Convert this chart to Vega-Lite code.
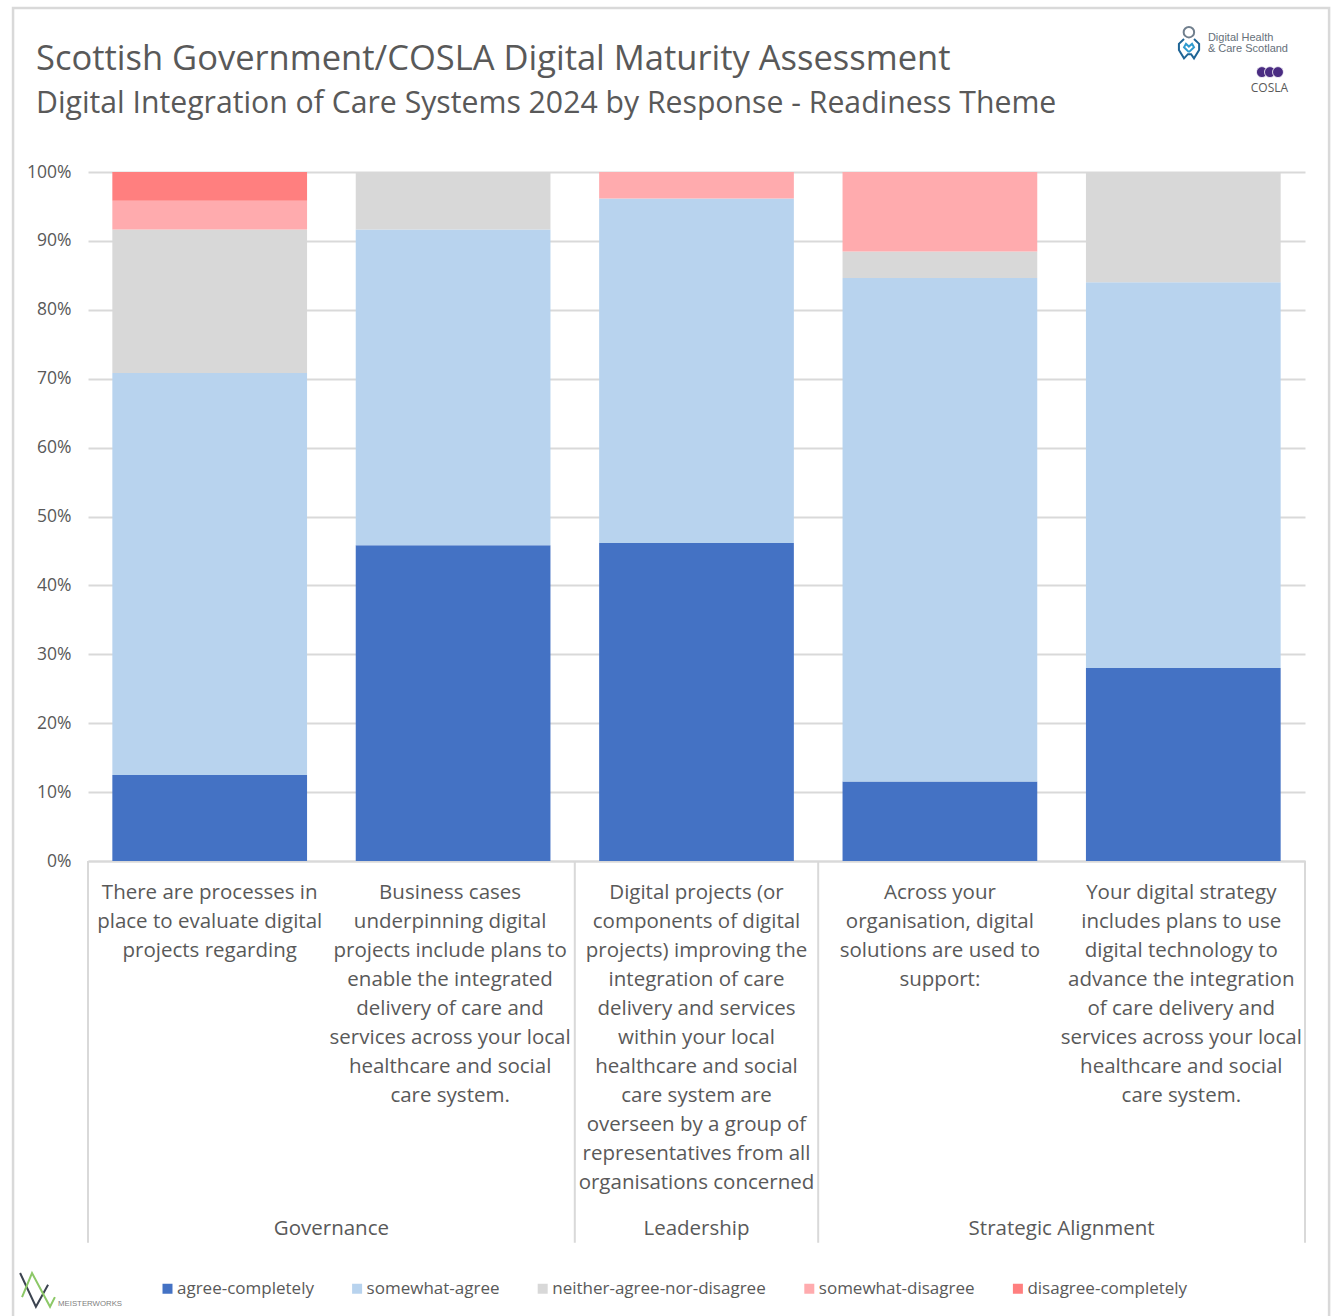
{
  "$schema": "https://vega.github.io/schema/vega-lite/v6.json",
  "width": 1217,
  "height": 689,
  "autosize": {"type": "none"},
  "padding": {"left": 88, "top": 172, "right": 34, "bottom": 455},
  "background": "white",
  "config": {"view": {"stroke": null}, "font": "Open Sans"},
  "title": {
    "text": "Scottish Government/COSLA Digital Maturity Assessment",
    "subtitle": "Digital Integration of Care Systems 2024 by Response - Readiness Theme",
    "anchor": "start",
    "frame": "group",
    "dx": -52,
    "offset": -113,
    "font": "Open Sans",
    "fontSize": 34.5,
    "fontWeight": "normal",
    "color": "#595959",
    "subtitleFont": "Open Sans",
    "subtitleFontSize": 30.2,
    "subtitleColor": "#595959",
    "subtitlePadding": 11
  },
  "datasets": {
    "responses": [
      {"question": "There are processes in|place to evaluate digital|projects regarding", "response": "agree-completely", "rank": 1, "pct": 12.5},
      {"question": "There are processes in|place to evaluate digital|projects regarding", "response": "somewhat-agree", "rank": 2, "pct": 58.33},
      {"question": "There are processes in|place to evaluate digital|projects regarding", "response": "neither-agree-nor-disagree", "rank": 3, "pct": 20.83},
      {"question": "There are processes in|place to evaluate digital|projects regarding", "response": "somewhat-disagree", "rank": 4, "pct": 4.17},
      {"question": "There are processes in|place to evaluate digital|projects regarding", "response": "disagree-completely", "rank": 5, "pct": 4.17},
      {"question": "Business cases|underpinning digital|projects include plans to|enable the integrated|delivery of care and|services across your local|healthcare and social|care system.", "response": "agree-completely", "rank": 1, "pct": 45.83},
      {"question": "Business cases|underpinning digital|projects include plans to|enable the integrated|delivery of care and|services across your local|healthcare and social|care system.", "response": "somewhat-agree", "rank": 2, "pct": 45.83},
      {"question": "Business cases|underpinning digital|projects include plans to|enable the integrated|delivery of care and|services across your local|healthcare and social|care system.", "response": "neither-agree-nor-disagree", "rank": 3, "pct": 8.34},
      {"question": "Digital projects (or|components of digital|projects) improving the|integration of care|delivery and services|within your local|healthcare and social|care system are|overseen by a group of|representatives from all|organisations concerned", "response": "agree-completely", "rank": 1, "pct": 46.15},
      {"question": "Digital projects (or|components of digital|projects) improving the|integration of care|delivery and services|within your local|healthcare and social|care system are|overseen by a group of|representatives from all|organisations concerned", "response": "somewhat-agree", "rank": 2, "pct": 50},
      {"question": "Digital projects (or|components of digital|projects) improving the|integration of care|delivery and services|within your local|healthcare and social|care system are|overseen by a group of|representatives from all|organisations concerned", "response": "somewhat-disagree", "rank": 4, "pct": 3.85},
      {"question": "Across your|organisation, digital|solutions are used to|support:", "response": "agree-completely", "rank": 1, "pct": 11.54},
      {"question": "Across your|organisation, digital|solutions are used to|support:", "response": "somewhat-agree", "rank": 2, "pct": 73.08},
      {"question": "Across your|organisation, digital|solutions are used to|support:", "response": "neither-agree-nor-disagree", "rank": 3, "pct": 3.85},
      {"question": "Across your|organisation, digital|solutions are used to|support:", "response": "somewhat-disagree", "rank": 4, "pct": 11.53},
      {"question": "Your digital strategy|includes plans to use|digital technology to|advance the integration|of care delivery and|services across your local|healthcare and social|care system.", "response": "agree-completely", "rank": 1, "pct": 28},
      {"question": "Your digital strategy|includes plans to use|digital technology to|advance the integration|of care delivery and|services across your local|healthcare and social|care system.", "response": "somewhat-agree", "rank": 2, "pct": 56},
      {"question": "Your digital strategy|includes plans to use|digital technology to|advance the integration|of care delivery and|services across your local|healthcare and social|care system.", "response": "neither-agree-nor-disagree", "rank": 3, "pct": 16}
    ],
    "themes": [
      {"theme": "Governance", "centre": 1},
      {"theme": "Leadership", "centre": 2.5},
      {"theme": "Strategic Alignment", "centre": 4}
    ],
    "themeEdges": [{"edge": 0}, {"edge": 2}, {"edge": 3}, {"edge": 5}],
    "brandLines": [
      {"part": "ring", "seq": 1, "px": 4.503, "py": 119.3},
      {"part": "ring", "seq": 2, "px": 4.482, "py": 118.6},
      {"part": "ring", "seq": 3, "px": 4.482, "py": 117.7},
      {"part": "ring", "seq": 4, "px": 4.503, "py": 116.5},
      {"part": "ring", "seq": 5, "px": 4.519, "py": 117.1},
      {"part": "ring", "seq": 6, "px": 4.532, "py": 117.1},
      {"part": "ring", "seq": 7, "px": 4.544, "py": 116.5},
      {"part": "ring", "seq": 8, "px": 4.565, "py": 117.7},
      {"part": "ring", "seq": 9, "px": 4.565, "py": 118.6},
      {"part": "ring", "seq": 10, "px": 4.544, "py": 119.3},
      {"part": "heart", "seq": 1, "px": 4.523, "py": 117.4},
      {"part": "heart", "seq": 2, "px": 4.503, "py": 118.1},
      {"part": "heart", "seq": 3, "px": 4.511, "py": 118.6},
      {"part": "heart", "seq": 4, "px": 4.523, "py": 118.2},
      {"part": "heart", "seq": 5, "px": 4.536, "py": 118.6},
      {"part": "heart", "seq": 6, "px": 4.544, "py": 118.1},
      {"part": "heart", "seq": 7, "px": 4.523, "py": 117.4},
      {"part": "zigDark", "seq": 1, "px": -0.279, "py": -59.8},
      {"part": "zigDark", "seq": 2, "px": -0.214, "py": -64.7},
      {"part": "zigDark", "seq": 3, "px": -0.164, "py": -61.5},
      {"part": "zigGreen", "seq": 1, "px": -0.271, "py": -63.3},
      {"part": "zigGreen", "seq": 2, "px": -0.23, "py": -59.8},
      {"part": "zigGreen", "seq": 3, "px": -0.156, "py": -64.7},
      {"part": "zigGreen", "seq": 4, "px": -0.136, "py": -63.3}
    ]
  },
  "layer": [
    {
      "description": "Frame around the whole card, open at the foot",
      "data": {"values": [{"frame": "card"}]},
      "mark": {"type": "rect", "fill": "transparent", "stroke": "#d9d9d9", "strokeWidth": 2.5},
      "encoding": {
        "x": {"datum": -0.308, "type": "quantitative", "scale": {"domain": [0, 5], "nice": false, "zero": false}, "axis": null},
        "x2": {"datum": 5.099},
        "y": {"datum": 123.8, "type": "quantitative", "scale": {"domain": [0, 100], "nice": false}},
        "y2": {"datum": -66.6}
      }
    },
    {
      "description": "Stacked response shares",
      "data": {"name": "responses"},
      "mark": {"type": "bar"},
      "encoding": {
        "x": {
          "field": "question",
          "type": "nominal",
          "sort": null,
          "scale": {"paddingInner": 0.2, "paddingOuter": 0.1},
          "axis": {
            "title": null,
            "labelExpr": "split(datum.label, '|')",
            "labelAngle": 0,
            "labelAlign": "center",
            "labelBaseline": "top",
            "labelFont": "Open Sans",
            "labelFontSize": 20.5,
            "labelColor": "#595959",
            "labelLineHeight": 29,
            "labelLimit": 0,
            "labelPadding": 21,
            "labelOverlap": false,
            "labelBound": false,
            "labelFlush": false,
            "labelOffset": {"expr": "indexof(datum.value, 'Business') == 0 ? -3 : indexof(datum.value, 'Your') == 0 ? -2 : 0"},
            "ticks": false,
            "domainColor": "#d9d9d9",
            "domainWidth": 2,
            "grid": false
          }
        },
        "y": {
          "field": "pct",
          "type": "quantitative",
          "stack": "zero",
          "scale": {"domain": [0, 100], "nice": false},
          "axis": {
            "title": null,
            "values": [0, 10, 20, 30, 40, 50, 60, 70, 80, 90, 100],
            "labelExpr": "datum.value + '%'",
            "labelFont": "Open Sans",
            "labelFontSize": 17.5,
            "labelColor": "#595959",
            "labelPadding": 17,
            "ticks": false,
            "domain": false,
            "grid": true,
            "gridColor": "#d9d9d9",
            "gridWidth": 2
          }
        },
        "color": {
          "field": "response",
          "type": "nominal",
          "sort": ["agree-completely", "somewhat-agree", "neither-agree-nor-disagree", "somewhat-disagree", "disagree-completely"],
          "scale": {
            "domain": ["agree-completely", "somewhat-agree", "neither-agree-nor-disagree", "somewhat-disagree", "disagree-completely"],
            "range": ["#4472c4", "#b8d3ee", "#d8d8d8", "#ffabae", "#ff7f7f"]
          },
          "legend": {
            "title": null,
            "orient": "none",
            "legendX": 71,
            "legendY": 1108,
            "direction": "horizontal",
            "columns": 5,
            "symbolType": "square",
            "symbolSize": 100,
            "symbolStrokeWidth": 0,
            "labelFont": "Open Sans",
            "labelFontSize": 17,
            "labelColor": "#595959",
            "labelOffset": 1,
            "labelLimit": 0,
            "columnPadding": 34.6
          }
        },
        "order": {"field": "rank", "type": "ordinal"}
      }
    },
    {
      "description": "Dividers that bracket the theme groups beneath the axis",
      "data": {"name": "themeEdges"},
      "mark": {"type": "rule", "color": "#d9d9d9", "strokeWidth": 2},
      "encoding": {
        "x": {"field": "edge", "type": "quantitative", "scale": {"domain": [0, 5], "nice": false, "zero": false}, "axis": null},
        "y": {"datum": 0, "type": "quantitative", "scale": {"domain": [0, 100], "nice": false}},
        "y2": {"datum": -55.4}
      }
    },
    {
      "description": "Theme group names",
      "data": {"name": "themes"},
      "mark": {"type": "text", "font": "Open Sans", "fontSize": 20.5, "color": "#595959", "align": "center", "baseline": "middle"},
      "encoding": {
        "x": {"field": "centre", "type": "quantitative", "scale": {"domain": [0, 5], "nice": false, "zero": false}, "axis": null},
        "y": {"datum": -53.45, "type": "quantitative", "scale": {"domain": [0, 100], "nice": false}},
        "text": {"field": "theme"}
      }
    },
    {
      "description": "Brand marks drawn as thin strokes",
      "data": {"name": "brandLines"},
      "mark": {"type": "line", "strokeWidth": 2, "interpolate": "linear"},
      "encoding": {
        "x": {"field": "px", "type": "quantitative", "scale": {"domain": [0, 5], "nice": false, "zero": false}, "axis": null},
        "y": {"field": "py", "type": "quantitative", "scale": {"domain": [0, 100], "nice": false}},
        "detail": {"field": "part"},
        "order": {"field": "seq", "type": "quantitative"},
        "stroke": {
          "field": "part",
          "type": "nominal",
          "scale": {"domain": ["ring", "heart", "zigDark", "zigGreen"], "range": ["#1f6596", "#2f9bd0", "#3c4450", "#8cc867"]},
          "legend": null
        }
      }
    },
    {
      "description": "Digital Health and Care Scotland head",
      "data": {"values": [{"px": 4.523, "py": 120.3}]},
      "mark": {"type": "point", "shape": "circle", "filled": false, "size": 110, "stroke": "#34495e", "strokeWidth": 2},
      "encoding": {
        "x": {"field": "px", "type": "quantitative", "scale": {"domain": [0, 5], "nice": false, "zero": false}, "axis": null},
        "y": {"field": "py", "type": "quantitative", "scale": {"domain": [0, 100], "nice": false}}
      }
    },
    {
      "description": "COSLA's three discs",
      "data": {"values": [{"px": 4.823, "py": 114.5}, {"px": 4.856, "py": 114.5}, {"px": 4.889, "py": 114.5}]},
      "mark": {"type": "point", "shape": "circle", "filled": true, "size": 120, "opacity": 1, "color": "#4a2c82", "stroke": "white", "strokeWidth": 0.8},
      "encoding": {
        "x": {"field": "px", "type": "quantitative", "scale": {"domain": [0, 5], "nice": false, "zero": false}, "axis": null},
        "y": {"field": "py", "type": "quantitative", "scale": {"domain": [0, 100], "nice": false}}
      }
    },
    {
      "description": "Organisation wordmark",
      "data": {"values": [{"label": "Digital Health", "px": 4.601, "py": 119.45}, {"label": "& Care Scotland", "px": 4.601, "py": 117.85}]},
      "mark": {"type": "text", "font": "Liberation Sans", "fontSize": 11, "color": "#66707a", "align": "left", "baseline": "middle"},
      "encoding": {
        "x": {"field": "px", "type": "quantitative", "scale": {"domain": [0, 5], "nice": false, "zero": false}, "axis": null},
        "y": {"field": "py", "type": "quantitative", "scale": {"domain": [0, 100], "nice": false}},
        "text": {"field": "label"}
      }
    },
    {
      "description": "COSLA wordmark",
      "data": {"values": [{"label": "COSLA", "px": 4.854, "py": 112.2}]},
      "mark": {"type": "text", "font": "Open Sans", "fontSize": 12, "color": "#595959", "align": "center", "baseline": "middle"},
      "encoding": {
        "x": {"field": "px", "type": "quantitative", "scale": {"domain": [0, 5], "nice": false, "zero": false}, "axis": null},
        "y": {"field": "py", "type": "quantitative", "scale": {"domain": [0, 100], "nice": false}},
        "text": {"field": "label"}
      }
    },
    {
      "description": "Meisterworks wordmark",
      "data": {"values": [{"label": "MEISTERWORKS", "px": -0.123, "py": -64.3}]},
      "mark": {"type": "text", "font": "Liberation Sans", "fontSize": 7.8, "color": "#808080", "align": "left", "baseline": "middle"},
      "encoding": {
        "x": {"field": "px", "type": "quantitative", "scale": {"domain": [0, 5], "nice": false, "zero": false}, "axis": null},
        "y": {"field": "py", "type": "quantitative", "scale": {"domain": [0, 100], "nice": false}},
        "text": {"field": "label"}
      }
    }
  ],
  "resolve": {"scale": {"x": "independent"}, "axis": {"x": "independent"}}
}
